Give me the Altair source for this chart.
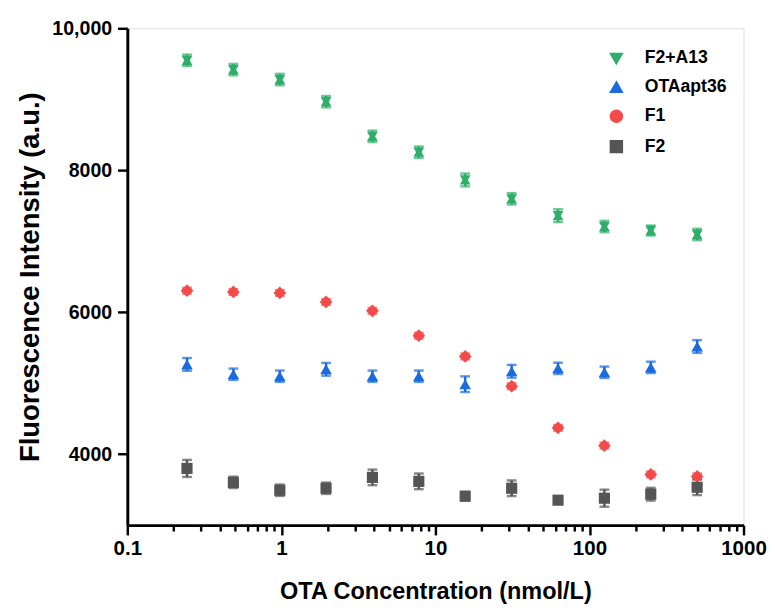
import altair as alt
import pandas as pd

conc = [0.244, 0.488, 0.977, 1.95, 3.9, 7.8, 15.6, 31.25, 62.5, 125, 250, 500]
series_names = ["F2+A13", "OTAapt36", "F1", "F2"]
f2a13 = [9549, 9418, 9278, 8966, 8478, 8254, 7863, 7598, 7360, 7207, 7151, 7095]
f2a13_err = [80, 80, 80, 80, 80, 80, 90, 80, 90, 80, 70, 80]
otaapt36 = [5265, 5126, 5098, 5196, 5098, 5098, 4986, 5168, 5209, 5154, 5223, 5517]
otaapt36_err = [90, 80, 80, 90, 80, 80, 110, 90, 80, 80, 80, 90]
f1 = [6303, 6285, 6271, 6145, 6020, 5670, 5377, 4958, 4372, 4120, 3715, 3687]
f1_err = [40, 40, 40, 40, 40, 40, 40, 40, 40, 40, 40, 40]
f2 = [3799, 3603, 3492, 3520, 3673, 3617, 3408, 3520, 3352, 3380, 3436, 3534]
f2_err = [120, 80, 80, 80, 110, 110, 60, 110, 50, 120, 90, 110]

x_ticks = [0.1, 0.2, 0.3, 0.4, 0.5, 0.6, 0.7, 0.8, 0.9,
           1, 2, 3, 4, 5, 6, 7, 8, 9,
           10, 20, 30, 40, 50, 60, 70, 80, 90,
           100, 200, 300, 400, 500, 600, 700, 800, 900, 1000]
y_ticks = [4000, 6000, 8000, 10000]

colors = ["#2EAE68", "#1A6BDC", "#F44A4A", "#555555"]
legend_shapes = ["triangle-down", "triangle-up", "circle", "square"]

rows = []
for name, vals, errs in [("F2+A13", f2a13, f2a13_err), ("OTAapt36", otaapt36, otaapt36_err),
                         ("F1", f1, f1_err), ("F2", f2, f2_err)]:
    for c, v, e in zip(conc, vals, errs):
        rows.append({"series": name, "conc": c, "val": v, "lo": v - e, "hi": v + e})
df = pd.DataFrame(rows)

FONT = "Liberation Sans"
is_major = "abs(log(datum.value)/LN10 - round(log(datum.value)/LN10)) < 0.001"

xscale = alt.Scale(type="log", domain=[0.1, 1000], nice=False)
yscale = alt.Scale(domain=[3000, 10000], nice=False, zero=False)
cscale = alt.Scale(domain=series_names, range=colors)

xaxis = alt.Axis(values=x_ticks,
                 labelExpr="(" + is_major + ") ? (datum.value < 1 ? '0.1' : format(datum.value, 'd')) : ''",
                 title="OTA Concentration (nmol/L)",
                 tickSize={"condition": {"test": is_major, "value": 10}, "value": 6},
                 tickWidth=2.5, domainWidth=3,
                 domainColor="black", tickColor="black", labelFontSize=21, labelFontWeight="bold",
                 labelColor="black", titleFontSize=24, titleFontWeight="bold", titleColor="black",
                 labelPadding=3, titlePadding=22, grid=False, labelFlush=False, labelOverlap=False)
yaxis = alt.Axis(values=y_ticks, labelExpr="datum.value == 10000 ? '10,000' : format(datum.value, 'd')",
                 title="Fluorescence Intensity (a.u.)", tickSize=10, tickWidth=2.5, domainWidth=3,
                 domainColor="black", tickColor="black", labelFontSize=20, labelFontWeight="bold",
                 labelColor="black", titleFontSize=28, titleFontWeight="bold", titleColor="black",
                 labelPadding=6, titlePadding=8, grid=False)

base = alt.Chart(df)

# legend-only layer (invisible marks, visible legend symbols)
legend_layer = base.mark_point(filled=True, opacity=0, size=150).encode(
    x=alt.X("conc:Q", scale=xscale, axis=xaxis),
    y=alt.Y("val:Q", scale=yscale, axis=yaxis),
    color=alt.Color("series:N", scale=cscale, sort=series_names,
                    legend=alt.Legend(title=None, orient="none", legendX=491, legendY=22,
                                      symbolOpacity=1, labelFontSize=18, labelFontWeight="bold",
                                      labelColor="black", labelFont=FONT, symbolSize=150,
                                      rowPadding=11, labelOffset=20, padding=0)),
    shape=alt.Shape("series:N", scale=alt.Scale(domain=series_names, range=legend_shapes),
                    sort=series_names, legend=None),
)

err_rule = base.mark_rule(strokeWidth=2.5).encode(
    x="conc:Q", y="lo:Q", y2="hi:Q",
    color=alt.Color("series:N", scale=cscale, legend=None),
)
err_lo = base.mark_tick(orient="horizontal", thickness=2.5, size=10).encode(
    x="conc:Q", y="lo:Q", color=alt.Color("series:N", scale=cscale, legend=None))
err_hi = base.mark_tick(orient="horizontal", thickness=2.5, size=10).encode(
    x="conc:Q", y="hi:Q", color=alt.Color("series:N", scale=cscale, legend=None))

def pts(name, shape, size):
    return base.transform_filter(alt.datum.series == name).mark_point(
        filled=True, opacity=1, shape=shape, size=size).encode(
        x="conc:Q", y="val:Q", color=alt.Color("series:N", scale=cscale, legend=None))

layers = [
    err_rule, err_lo, err_hi,
    pts("F2+A13", "triangle-down", 120),
    pts("F2+A13", "triangle-up", 120),
    pts("OTAapt36", "triangle-up", 140),
    pts("F1", "diamond", 170),
    pts("F2", "square", 130),
]

chart = alt.layer(legend_layer, *layers).properties(
    width=630, height=508,
    padding={"left": 8, "top": 4, "right": 0, "bottom": 0},
).configure_view(stroke="black", strokeWidth=3).configure(font=FONT)

chart.save("out.html", embed_options={"renderer": "svg", "actions": False})
